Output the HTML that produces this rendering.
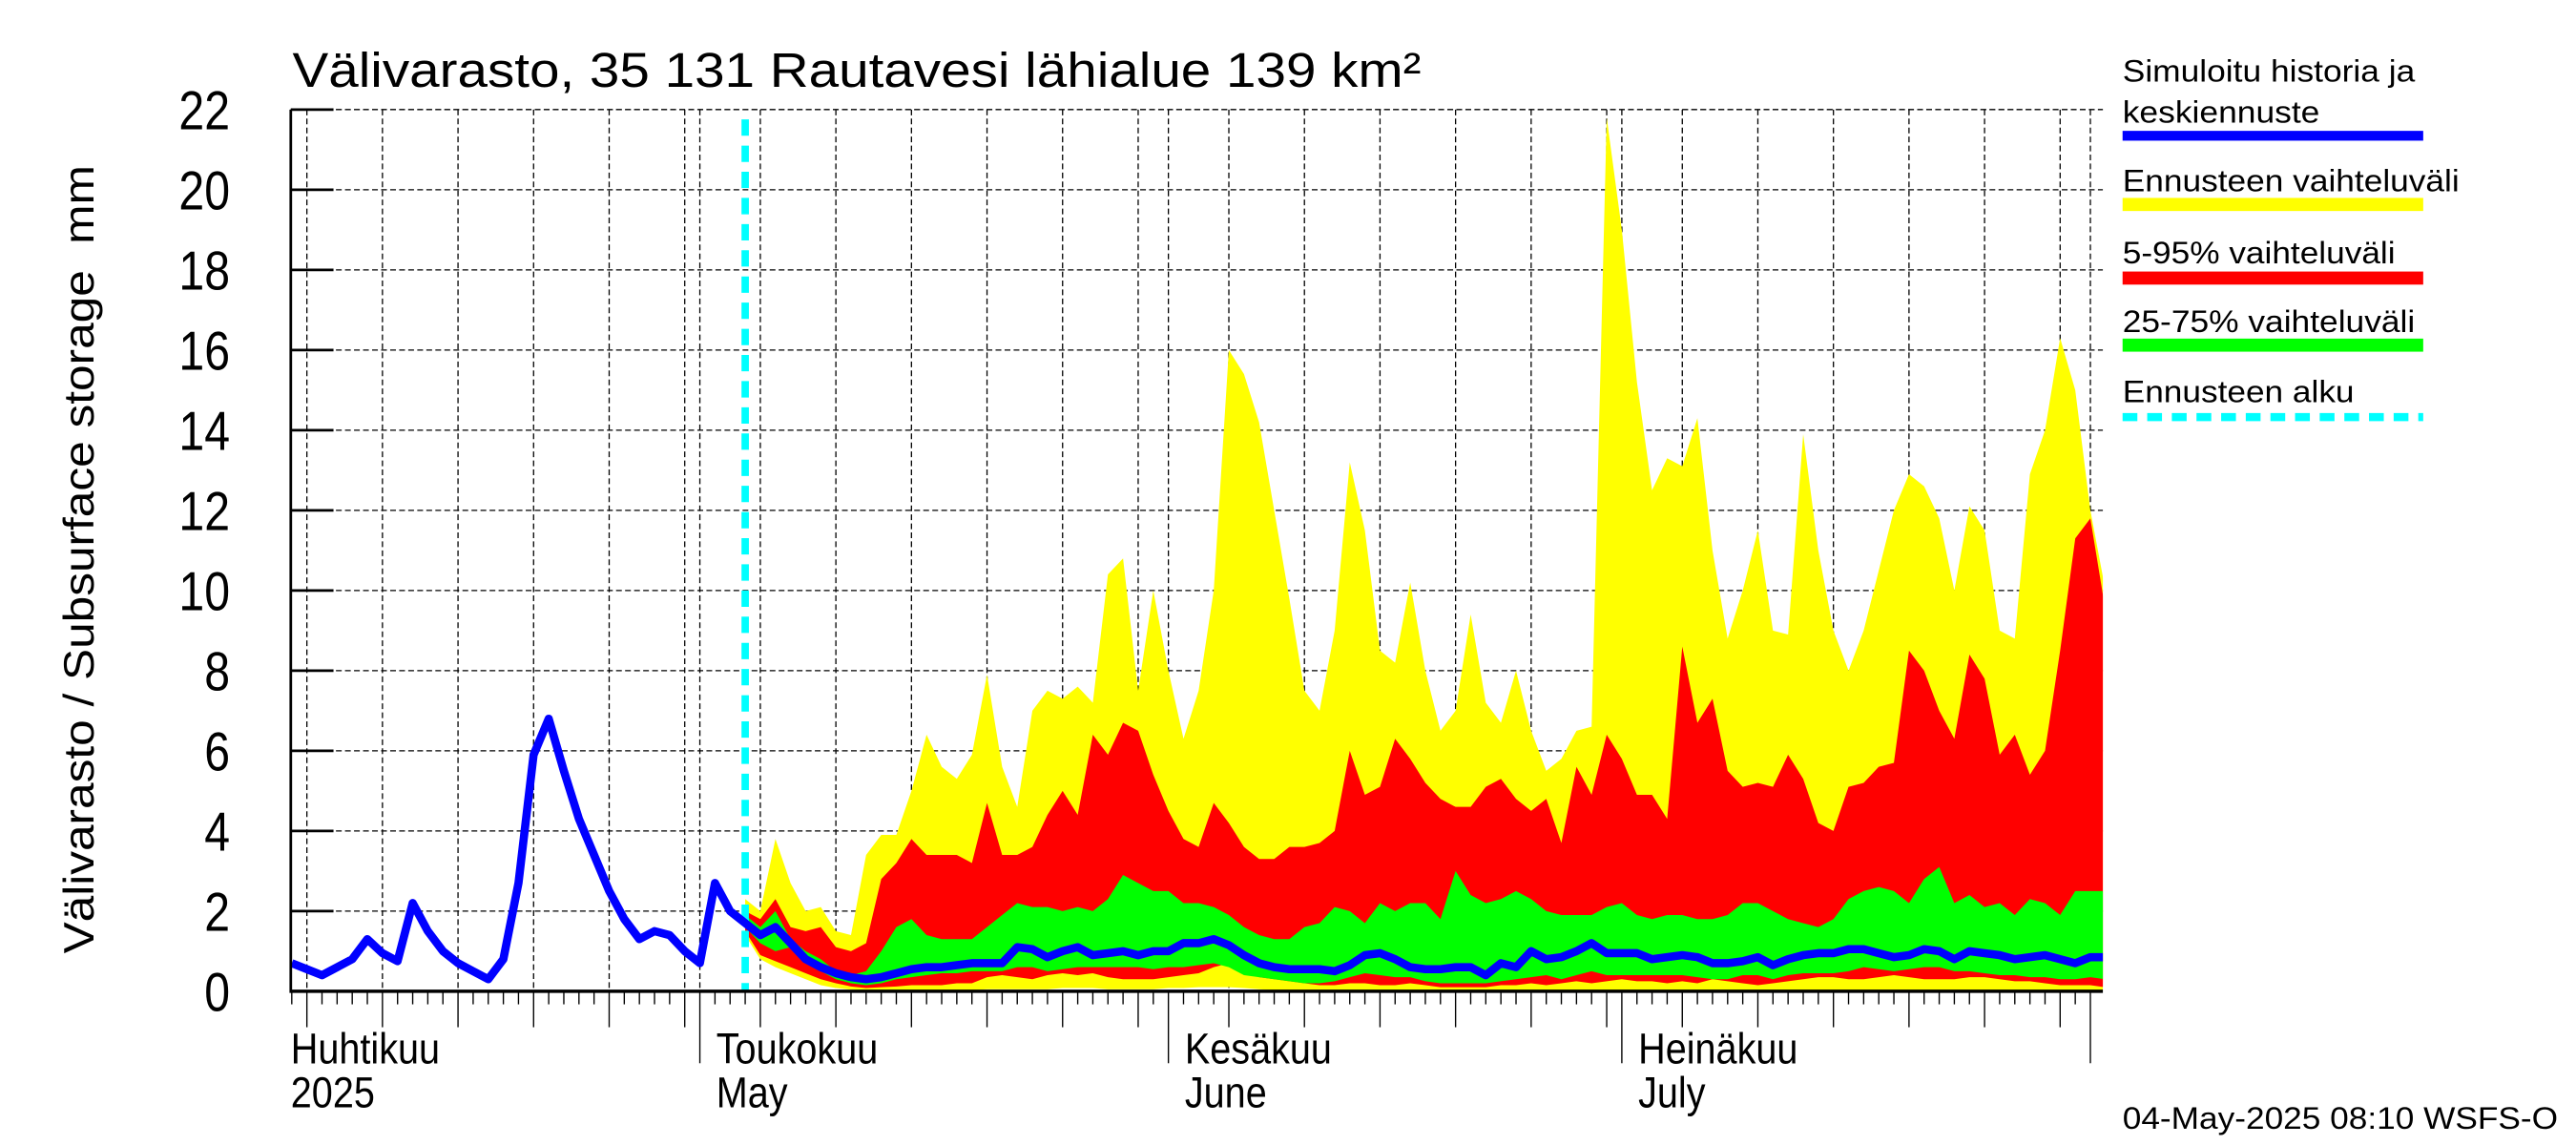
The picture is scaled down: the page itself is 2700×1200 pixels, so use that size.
<!DOCTYPE html>
<html><head><meta charset="utf-8"><style>
html,body{margin:0;padding:0;background:#fff;}
svg{display:block;}
text{font-family:"Liberation Sans",Arial,sans-serif;fill:#000;}
</style></head><body>
<svg id="chart" xmlns="http://www.w3.org/2000/svg" width="2700" height="1200" viewBox="0 0 1568 700" preserveAspectRatio="none">
<defs><clipPath id="plotclip"><rect x="177" y="40" width="1103" height="566"/></clipPath></defs>
<rect x="0" y="0" width="1568" height="700" fill="#fff"/>
<text x="178" y="53" font-size="30" textLength="687" lengthAdjust="spacingAndGlyphs">Välivarasto, 35 131 Rautavesi lähialue 139 km²</text>
<text transform="translate(57,342) rotate(-90)" text-anchor="middle" font-size="26" textLength="482" lengthAdjust="spacingAndGlyphs" xml:space="preserve">Välivarasto / Subsurface storage  mm</text>
<g id="grid"></g>
<g id="bands" clip-path="url(#plotclip)"></g>
<g id="lines" clip-path="url(#plotclip)"></g>
<g id="axes"></g>
<g id="legend">
<text x="1292" y="50" font-size="19" textLength="178" lengthAdjust="spacingAndGlyphs">Simuloitu historia ja</text>
<text x="1292" y="75" font-size="19" textLength="120" lengthAdjust="spacingAndGlyphs">keskiennuste</text>
<rect x="1292" y="80" width="183" height="6" fill="#0000ff"/>
<text x="1292" y="117" font-size="19" textLength="205" lengthAdjust="spacingAndGlyphs">Ennusteen vaihteluväli</text>
<rect x="1292" y="121" width="183" height="8" fill="#ffff00"/>
<text x="1292" y="161" font-size="19" textLength="166" lengthAdjust="spacingAndGlyphs">5-95% vaihteluväli</text>
<rect x="1292" y="166" width="183" height="8" fill="#ff0000"/>
<text x="1292" y="203" font-size="19" textLength="178" lengthAdjust="spacingAndGlyphs">25-75% vaihteluväli</text>
<rect x="1292" y="207" width="183" height="8" fill="#00ff00"/>
<text x="1292" y="246" font-size="19" textLength="141" lengthAdjust="spacingAndGlyphs">Ennusteen alku</text>
<line x1="1292" y1="255" x2="1475" y2="255" stroke="#00ffff" stroke-width="5" stroke-dasharray="9,6"/>
</g>
<text x="1292" y="690" font-size="19" textLength="265" lengthAdjust="spacingAndGlyphs">04-May-2025 08:10 WSFS-O</text>
</svg>
<script>
// Day index 0 = 1 April 2025
const historyStartDay = 3;
const forecastStartDay = 33;
const yTicks = [0,2,4,6,8,10,12,14,16,18,20,22];
const monthStarts = [0,30,61,91,122];
const monthLabelsFi = ["Huhtikuu","Toukokuu","Kesäkuu","Heinäkuu"];
const monthLabelsEn = ["2025","May","June","July"];
const historyValues = [0.7,0.55,0.4,0.6,0.8,1.3,0.95,0.75,2.2,1.5,1.0,0.7,0.5,0.3,0.8,2.7,5.9,6.8,5.5,4.3,3.4,2.5,1.8,1.3,1.5,1.4,1.0,0.7,2.7,2.0,1.7];
const medianValues = [1.7,1.4,1.6,1.2,0.8,0.6,0.45,0.35,0.3,0.35,0.45,0.55,0.6,0.6,0.65,0.7,0.7,0.7,1.1,1.05,0.85,1.0,1.1,0.9,0.95,1.0,0.9,1.0,1.0,1.2,1.2,1.3,1.15,0.9,0.7,0.6,0.55,0.55,0.55,0.5,0.65,0.9,0.95,0.8,0.6,0.55,0.55,0.6,0.6,0.4,0.7,0.6,1.0,0.8,0.85,1.0,1.2,0.95,0.95,0.95,0.8,0.85,0.9,0.85,0.7,0.7,0.75,0.85,0.65,0.8,0.9,0.95,0.95,1.05,1.05,0.95,0.85,0.9,1.05,1.0,0.8,1.0,0.95,0.9,0.8,0.85,0.9,0.8,0.7,0.85,0.85];
const maxValues = [2.3,2.0,3.8,2.7,2.0,2.1,1.5,1.4,3.4,3.9,3.9,5.0,6.4,5.6,5.3,5.9,7.9,5.6,4.6,7.0,7.5,7.3,7.6,7.2,10.4,10.8,7.5,10.0,8.0,6.3,7.5,10.0,16.0,15.4,14.2,12.0,9.8,7.5,7.0,9.0,13.2,11.5,8.5,8.2,10.2,8.0,6.5,7.0,9.4,7.2,6.7,8.0,6.5,5.5,5.8,6.5,6.6,21.8,19.0,15.2,12.5,13.3,13.1,14.3,11.0,8.8,10.0,11.5,9.0,8.9,13.9,11.0,9.0,8.0,9.0,10.5,12.0,12.9,12.6,11.8,10.0,12.1,11.5,9.0,8.8,12.9,14.0,16.3,15.0,12.0,10.0];
const p95Values = [2.0,1.8,2.3,1.6,1.5,1.6,1.1,1.0,1.2,2.8,3.2,3.8,3.4,3.4,3.4,3.2,4.7,3.4,3.4,3.6,4.4,5.0,4.4,6.4,5.9,6.7,6.5,5.4,4.5,3.8,3.6,4.7,4.2,3.6,3.3,3.3,3.6,3.6,3.7,4.0,6.0,4.9,5.1,6.3,5.8,5.2,4.8,4.6,4.6,5.1,5.3,4.8,4.5,4.8,3.7,5.6,4.9,6.4,5.8,4.9,4.9,4.3,8.6,6.7,7.3,5.5,5.1,5.2,5.1,5.9,5.3,4.2,4.0,5.1,5.2,5.6,5.7,8.5,8.0,7.0,6.3,8.4,7.8,5.9,6.4,5.4,6.0,8.5,11.3,11.8,9.5];
const p75Values = [1.9,1.6,2.0,1.3,1.0,0.8,0.5,0.4,0.5,1.0,1.6,1.8,1.4,1.3,1.3,1.3,1.6,1.9,2.2,2.1,2.1,2.0,2.1,2.0,2.3,2.9,2.7,2.5,2.5,2.2,2.2,2.1,1.9,1.6,1.4,1.3,1.3,1.6,1.7,2.1,2.0,1.7,2.2,2.0,2.2,2.2,1.8,3.0,2.4,2.2,2.3,2.5,2.3,2.0,1.9,1.9,1.9,2.1,2.2,1.9,1.8,1.9,1.9,1.8,1.8,1.9,2.2,2.2,2.0,1.8,1.7,1.6,1.8,2.3,2.5,2.6,2.5,2.2,2.8,3.1,2.2,2.4,2.1,2.2,1.9,2.3,2.2,1.9,2.5,2.5,2.5];
const p25Values = [1.6,1.2,1.0,1.1,0.7,0.5,0.3,0.2,0.15,0.2,0.3,0.35,0.4,0.45,0.45,0.5,0.5,0.5,0.6,0.6,0.5,0.55,0.6,0.6,0.6,0.6,0.6,0.55,0.6,0.6,0.65,0.7,0.6,0.4,0.35,0.3,0.25,0.2,0.2,0.25,0.35,0.45,0.4,0.35,0.35,0.25,0.2,0.2,0.2,0.2,0.25,0.3,0.35,0.4,0.3,0.4,0.5,0.4,0.4,0.4,0.4,0.4,0.4,0.35,0.3,0.3,0.4,0.4,0.3,0.4,0.45,0.45,0.45,0.5,0.6,0.55,0.5,0.55,0.6,0.6,0.5,0.5,0.45,0.4,0.4,0.35,0.35,0.3,0.3,0.35,0.3];
const p5Values = [1.5,0.9,0.75,0.6,0.45,0.3,0.2,0.12,0.08,0.1,0.12,0.15,0.15,0.15,0.2,0.2,0.35,0.4,0.35,0.3,0.4,0.45,0.4,0.45,0.35,0.3,0.3,0.3,0.35,0.4,0.45,0.6,0.7,0.45,0.35,0.3,0.25,0.2,0.15,0.15,0.2,0.2,0.15,0.15,0.2,0.15,0.1,0.1,0.1,0.1,0.15,0.15,0.2,0.15,0.2,0.25,0.2,0.25,0.3,0.25,0.25,0.2,0.25,0.2,0.3,0.25,0.2,0.15,0.2,0.25,0.3,0.35,0.35,0.3,0.3,0.35,0.4,0.35,0.3,0.3,0.3,0.35,0.35,0.3,0.25,0.25,0.2,0.15,0.15,0.15,0.1];
const minValues = [1.4,0.8,0.6,0.45,0.3,0.15,0.08,0.04,0.02,0.02,0.02,0.02,0.02,0.03,0.03,0.03,0.05,0.05,0.05,0.05,0.05,0.08,0.08,0.08,0.05,0.05,0.05,0.05,0.08,0.08,0.1,0.1,0.1,0.08,0.05,0.03,0.03,0.03,0.03,0.03,0.03,0.03,0.03,0.03,0.03,0.03,0.03,0.02,0.02,0.02,0.02,0.02,0.02,0.02,0.02,0.02,0.02,0.02,0.02,0.02,0.02,0.02,0.02,0.02,0.02,0.02,0.02,0.02,0.02,0.02,0.02,0.02,0.02,0.02,0.02,0.02,0.02,0.02,0.02,0.02,0.02,0.02,0.02,0.02,0.02,0.02,0.02,0.02,0.02,0.02,0.02];

const NS = "http://www.w3.org/2000/svg";
const X0 = 177, X1 = 1280, Y0 = 606, PXDAY = 9.2, PXUNIT = 24.5;
function xScale(d){ return 426 + (d - 30) * PXDAY; }
function yScale(v){ return Y0 - v * PXUNIT; }
function mk(tag, attrs, parent){
  const el = document.createElementNS(NS, tag);
  for (const k in attrs) el.setAttribute(k, attrs[k]);
  parent.appendChild(el);
  return el;
}
const grid = document.getElementById('grid');
const axes = document.getElementById('axes');
const bands = document.getElementById('bands');
const lines = document.getElementById('lines');

yTicks.forEach(v => {
  const y = yScale(v);
  if (v > 0) {
    const g = mk('line', {x1:X0, y1:y, x2:X1, y2:y, stroke:'#000', 'stroke-width':0.75, 'stroke-dasharray':'3.5,2'}, grid);
    
    
  }
  const t = mk('line', {x1:X0, y1:y, x2:X0+26, y2:y, stroke:'#000', 'stroke-width':1.6}, axes);
  
  
  const lb = mk('text', {x:140, y:0, 'text-anchor':'end', 'font-size':28, transform:'translate(0,'+(y+12)+') scale(1,1.2)'}, axes);
  lb.textContent = v;
  
  
});

const dStart = Math.ceil((X0 - 426) / PXDAY + 30), dEnd = Math.floor((X1 - 426) / PXDAY + 30);
function dayOfMonth(d){
  let m = 0; for (let i = 0; i < monthStarts.length; i++) if (d >= monthStarts[i]) m = i;
  return d - monthStarts[m] + 1;
}
for (let d = dStart; d <= dEnd; d++) {
  const x = xScale(d);
  const dom = dayOfMonth(d);
  const isMonth = monthStarts.indexOf(d) >= 0;
  const isFive = dom % 5 === 0;
  if (isMonth || isFive) {
    const g = mk('line', {x1:x, y1:67, x2:x, y2:Y0, stroke:'#000', 'stroke-width':0.75, 'stroke-dasharray':'3.5,2'}, grid);
    
    
  }
  const len = isMonth ? 44 : (isFive ? 22 : 8);
  const t = mk('line', {x1:x, y1:Y0, x2:x, y2:Y0+len, stroke:'#000', 'stroke-width':0.8}, axes);
  
  
}
monthLabelsFi.forEach((lab, i) => {
  const x = i === 0 ? X0 : xScale(monthStarts[i]) + 10;
  const t1 = mk('text', {x:x, y:0, 'font-size':23, transform:'translate(0,650) scale(1,1.15)'}, axes);
  t1.textContent = lab;
  
  
  const t2 = mk('text', {x:x, y:0, 'font-size':23, transform:'translate(0,677) scale(1,1.15)'}, axes);
  t2.textContent = monthLabelsEn[i];
  
  
});
const tg = mk('line', {x1:X0, y1:67, x2:X1, y2:67, stroke:'#000', 'stroke-width':0.75, 'stroke-dasharray':'3.5,2'}, grid);



function band(upper, lower, color, name){
  const n = Math.min(upper.length, lower.length);
  let pts = [];
  for (let i = 0; i < n; i++) pts.push(xScale(forecastStartDay + i) + ',' + yScale(upper[i]));
  for (let i = n - 1; i >= 0; i--) pts.push(xScale(forecastStartDay + i) + ',' + yScale(lower[i]));
  const p = mk('polygon', {points: pts.join(' '), fill: color}, bands);
  
  
}
band(maxValues, minValues, '#ffff00', 'band-min-max');
band(p95Values, p5Values, '#ff0000', 'band-5-95');
band(p75Values, p25Values, '#00ff00', 'band-25-75');

const fx = xScale(forecastStartDay);
const cy = mk('line', {x1:fx, y1:73, x2:fx, y2:Y0, stroke:'#00ffff', 'stroke-width':4.5, 'stroke-dasharray':'10,6'}, lines);



let bp = [];
historyValues.forEach((v, i) => bp.push(xScale(historyStartDay + i) + ',' + yScale(v)));
medianValues.forEach((v, i) => { if (i > 0) bp.push(xScale(forecastStartDay + i) + ',' + yScale(v)); });
const bl = mk('polyline', {points: bp.join(' '), fill:'none', stroke:'#0000ff', 'stroke-width':5, 'stroke-linejoin':'round'}, lines);



const ax1 = mk('line', {x1:X0, y1:67, x2:X0, y2:Y0+1, stroke:'#000', 'stroke-width':1.6}, axes);


const ax2 = mk('line', {x1:X0, y1:Y0, x2:X1, y2:Y0, stroke:'#000', 'stroke-width':2}, axes);


</script>
</body></html>
